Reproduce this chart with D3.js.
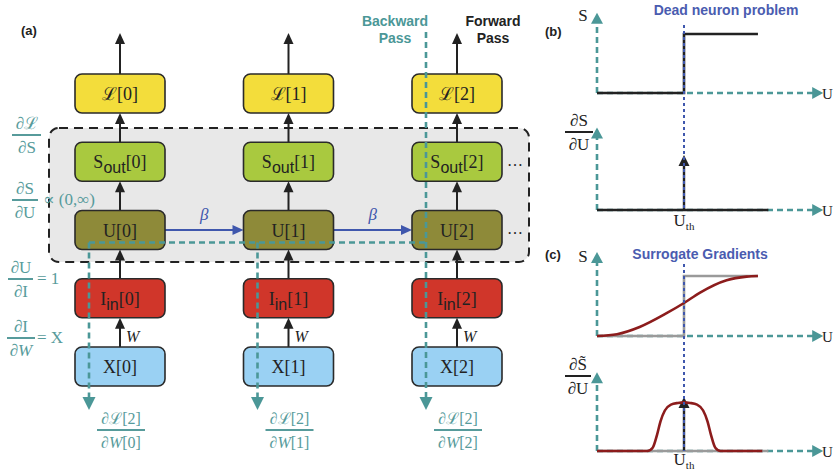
<!DOCTYPE html>
<html><head><meta charset="utf-8">
<script src="https://cdn.jsdelivr.net/npm/d3@7"></script>
<style>body{margin:0;background:#fff}svg{display:block}</style>
</head><body>
<svg id="fig" width="835" height="474"></svg>
<script>
// ---- unrolled network: time steps and layers ----
const steps = [0, 1, 2];
const layerKeys = ["L", "S", "U", "I", "X"];
const layerSymbols = ["ℒ", "S", "U", "I", "X"];
const layerSubs = ["", "out", "", "in", ""];
const layerFills = ["#f3dd3b", "#a9c93f", "#8e8a39", "#d0362a", "#9ad1f3"];

// local gradient terms along the left margin
const gradNums = ["∂ℒ", "∂S", "∂U", "∂I"];
const gradDens = ["∂S", "∂U", "∂I", "∂W"];
const gradTails = ["", "∝ (0,∞)", "= 1", "= X"];

// ---- neuron response curves (U relative to threshold) ----
const heavisideU = [-1, 0, 0, 0.85];
const heavisideS = [0, 0, 1, 1];
const spikeBaseU = [-1, 0.97];
const sigmoidU = [-1.0, -0.77, -0.51, -0.2, 0, 0.18, 0.49, 0.72, 0.85];
const sigmoidS = [0, 0.03, 0.15, 0.38, 0.55, 0.72, 0.93, 0.99, 1.0];
const bumpU = [-1.0, -0.42, -0.36, -0.31, -0.27, -0.22, -0.15, -0.07, 0, 0.07, 0.15, 0.22, 0.27, 0.31, 0.36, 0.42, 0.9];
const bumpV = [0, 0, 0.06, 0.3, 0.55, 0.75, 0.86, 0.89, 0.9, 0.89, 0.86, 0.75, 0.55, 0.3, 0.06, 0, 0];

const TEAL = "#4b9797", TEAL_TXT = "#579b9b", BLUE = "#3f57ad", INK = "#222";
const SERIF = "'Liberation Serif','DejaVu Serif',serif";
const SANS = "'Liberation Sans',Arial,sans-serif";

const svg = d3.select("#fig");

function tri(g, tx, ty, dir, len, hw, fill) {
  // dir: "up" | "down" | "right"
  let pts;
  if (dir === "up") pts = [[tx, ty], [tx - hw, ty + len], [tx + hw, ty + len]];
  else if (dir === "down") pts = [[tx, ty], [tx - hw, ty - len], [tx + hw, ty - len]];
  else pts = [[tx, ty], [tx - len, ty - hw], [tx - len, ty + hw]];
  g.append("path").attr("d", d3.line()(pts) + "Z").attr("fill", fill);
}

function frac(g, cx, barY, x0, x1, num, den, color, size) {
  const t1 = g.append("text").attr("x", cx).attr("y", barY - 6).attr("text-anchor", "middle")
    .attr("font-family", SERIF).attr("font-size", size).attr("fill", color);
  num.forEach(s => t1.append("tspan").attr("font-style", s[1] ? "italic" : null).text(s[0]));
  g.append("line").attr("x1", x0).attr("x2", x1).attr("y1", barY).attr("y2", barY)
    .attr("stroke", color).attr("stroke-width", 2);
  const t2 = g.append("text").attr("x", cx).attr("y", barY + 18).attr("text-anchor", "middle")
    .attr("font-family", SERIF).attr("font-size", size).attr("fill", color);
  den.forEach(s => t2.append("tspan").attr("font-style", s[1] ? "italic" : null).text(s[0]));
}

// ================= panel (a) =================
const gA = svg.append("g");
const xCol = d3.scaleLinear().domain([0, 2]).range([120, 457]);
const yRow = d3.scalePoint().domain(layerKeys).range([74, 347]);
const BW = 90, BH = 39;

gA.append("text").attr("x", 21).attr("y", 35).attr("font-family", SANS).attr("font-weight", "bold")
  .attr("font-size", 13).attr("fill", INK).text("(a)");

// recurrent block (S and U layers)
gA.append("rect").attr("x", 49).attr("y", 128).attr("width", 480).attr("height", 134)
  .attr("rx", 10).attr("fill", "#e8e8e8").attr("stroke", INK).attr("stroke-width", 2)
  .attr("stroke-dasharray", "9,6");

// forward arrows
steps.forEach(t => {
  const cx = xCol(t);
  gA.append("line").attr("x1", cx).attr("x2", cx).attr("y1", yRow("L")).attr("y2", 42)
    .attr("stroke", INK).attr("stroke-width", 2);
  tri(gA, cx, 33, "up", 11, 5, INK);
  for (let i = 0; i < layerKeys.length - 1; i++) {
    const yTop = yRow(layerKeys[i]) + BH, yBot = yRow(layerKeys[i + 1]);
    gA.append("line").attr("x1", cx).attr("x2", cx).attr("y1", yBot).attr("y2", yTop + 9)
      .attr("stroke", INK).attr("stroke-width", 2);
    tri(gA, cx, yTop, "up", 11, 5, INK);
  }
  gA.append("text").attr("x", cx + 6).attr("y", 342).attr("font-family", SERIF)
    .attr("font-style", "italic").attr("font-size", 16).attr("fill", INK).text("W");
});

// membrane recurrence β
steps.slice(0, -1).forEach(t => {
  const y = yRow("U") + BH / 2;
  const x0 = xCol(t) + BW / 2, x1 = xCol(t + 1) - BW / 2;
  gA.append("line").attr("x1", x0).attr("x2", x1 - 9).attr("y1", y).attr("y2", y)
    .attr("stroke", BLUE).attr("stroke-width", 2);
  tri(gA, x1, y, "right", 11, 5, BLUE);
  gA.append("text").attr("x", (x0 + x1) / 2).attr("y", y - 10).attr("text-anchor", "middle")
    .attr("font-family", SERIF).attr("font-style", "italic").attr("font-size", 17).attr("fill", BLUE).text("β");
});

// layer boxes
steps.forEach(t => {
  layerKeys.forEach((k, i) => {
    const x = xCol(t) - BW / 2, y = yRow(k);
    gA.append("rect").attr("x", x).attr("y", y).attr("width", BW).attr("height", BH).attr("rx", 7)
      .attr("fill", layerFills[i]).attr("stroke", "#2a2a2a").attr("stroke-width", 1.6);
    const tx = gA.append("text").attr("x", xCol(t)).attr("y", y + 26).attr("text-anchor", "middle")
      .attr("font-family", SERIF).attr("font-size", 18).attr("fill", INK);
    tx.append("tspan").text(layerSymbols[i]);
    if (layerSubs[i]) {
      tx.append("tspan").attr("font-family", SANS).attr("font-size", 16).attr("dy", 5).text(layerSubs[i]);
      tx.append("tspan").attr("dy", -5).text("[" + t + "]");
    } else {
      tx.append("tspan").text("[" + t + "]");
    }
  });
});

// continuation dots
["S", "U"].forEach(k => {
  gA.append("text").attr("x", xCol(2) + BW / 2 + 5).attr("y", yRow(k) + BH / 2 + 4)
    .attr("font-family", SERIF).attr("font-size", 16).attr("fill", INK).text("…");
});

// backward pass path
const bx = steps.map(t => xCol(t) - 31);
const hY = yRow("U") + BH - 7;
const dashT = { stroke: TEAL, "stroke-width": 2.6, "stroke-dasharray": "6,4", fill: "none" };
function dashed(g, pts) {
  const p = g.append("path").attr("d", d3.line()(pts));
  Object.entries(dashT).forEach(([k, v]) => p.attr(k, v));
}
dashed(gA, [[bx[2], 32], [bx[2], 398]]);
dashed(gA, [[bx[0], hY], [bx[2], hY]]);
dashed(gA, [[bx[0], hY], [bx[0], 398]]);
dashed(gA, [[bx[1], hY], [bx[1], 398]]);
bx.forEach(x => tri(gA, x, 410, "down", 13, 6.5, TEAL));

// pass labels
[["Backward", 26], ["Pass", 43]].forEach(([s, y]) =>
  gA.append("text").attr("x", 395).attr("y", y).attr("text-anchor", "middle").attr("font-family", SANS)
    .attr("font-weight", "bold").attr("font-size", 14).attr("fill", TEAL).text(s));
[["Forward", 26], ["Pass", 43]].forEach(([s, y]) =>
  gA.append("text").attr("x", 493).attr("y", y).attr("text-anchor", "middle").attr("font-family", SANS)
    .attr("font-weight", "bold").attr("font-size", 14).attr("fill", INK).text(s));

// local gradient labels
const leftLab = [
  { cx: 27, bar: 135, x0: 12, x1: 41, tx: 0, ty: 0 },
  { cx: 25, bar: 200, x0: 12, x1: 38, tx: 43, ty: 205 },
  { cx: 21, bar: 279, x0: 8, x1: 33, tx: 37, ty: 284 },
  { cx: 21, bar: 338, x0: 7, x1: 35, tx: 37, ty: 343 }
];
gradNums.forEach((n, i) => {
  const L = leftLab[i];
  const den = gradDens[i] === "∂W" ? [["∂"], ["W", true]] : [[gradDens[i]]];
  frac(gA, L.cx, L.bar, L.x0, L.x1, [[n]], den, TEAL_TXT, 17);
  if (gradTails[i]) gA.append("text").attr("x", L.tx).attr("y", L.ty).attr("font-family", SERIF)
    .attr("font-size", 17).attr("fill", TEAL_TXT).text(gradTails[i]);
});

// total weight gradients per step
steps.forEach(t => {
  const cx = xCol(t) + 1;
  frac(gA, cx, 430, cx - 24, cx + 24, [["∂ℒ[2]"]], [["∂"], ["W", true], ["[" + t + "]"]], TEAL_TXT, 16);
});

// ================= panels (b), (c) =================
const xU = d3.scaleLinear().domain([-1, 0]).range([597, 684]);
const gB = svg.append("g");

function axes(g, base, unit, topV) {
  const y = d3.scaleLinear().domain([0, 1]).range([base, base - unit]);
  dashed(g, [[xU(-1), base], [xU(1.6) - 10, base]]);
  tri(g, xU(1.6), base, "right", 11, 6, TEAL);
  dashed(g, [[xU(-1), base], [xU(-1), y(topV) + 10]]);
  tri(g, xU(-1), y(topV), "up", 11, 6, TEAL);
  g.append("text").attr("x", 822).attr("y", base + 6).attr("font-family", SERIF).attr("font-size", 15)
    .attr("fill", INK).text("U");
  return y;
}
function curve(g, us, vs, y, color, w, smooth) {
  const ln = d3.line().x(d => xU(d[0])).y(d => y(d[1]));
  if (smooth) ln.curve(d3.curveMonotoneX);
  g.append("path").attr("d", ln(us.map((u, i) => [u, vs[i]]))).attr("fill", "none")
    .attr("stroke", color).attr("stroke-width", w).attr("stroke-linejoin", "miter");
}
function impulse(g, y, topV) {
  g.append("line").attr("x1", xU(0)).attr("x2", xU(0)).attr("y1", y(0)).attr("y2", y(topV) + 9)
    .attr("stroke", INK).attr("stroke-width", 2.4);
  tri(g, xU(0), y(topV), "up", 11, 5.5, INK);
}
function thresh(g, y0, y1) {
  g.append("line").attr("x1", xU(0)).attr("x2", xU(0)).attr("y1", y0).attr("y2", y1)
    .attr("stroke", BLUE).attr("stroke-width", 2).attr("stroke-dasharray", "3,3");
}
function uth(g, y) {
  const t = g.append("text").attr("x", xU(0)).attr("y", y).attr("text-anchor", "middle")
    .attr("font-family", SERIF).attr("font-size", 17).attr("fill", INK);
  t.append("tspan").text("U");
  t.append("tspan").attr("font-size", 11).attr("dy", 4).text("th");
}
function title(g, x, y, s) {
  g.append("text").attr("x", x).attr("y", y).attr("text-anchor", "middle").attr("font-family", SANS)
    .attr("font-weight", "bold").attr("font-size", 14).attr("fill", "#4a5cb0").text(s);
}

// (b) Heaviside spike and its derivative
gB.append("text").attr("x", 545).attr("y", 36).attr("font-family", SANS).attr("font-weight", "bold")
  .attr("font-size", 13).attr("fill", INK).text("(b)");
title(gB, 726, 15, "Dead neuron problem");
const yB1 = axes(gB, 93, 59, 1.36);
gB.append("text").attr("x", 583).attr("y", 21).attr("text-anchor", "middle").attr("font-family", SERIF)
  .attr("font-size", 17).attr("fill", INK).text("S");
curve(gB, heavisideU, heavisideS, yB1, INK, 2.6, false);
const yB2 = axes(gB, 210, 55, 1.5);
frac(gB, 579, 132, 565, 593, [["∂S"]], [["∂U"]], INK, 17);
curve(gB, spikeBaseU, [0, 0], yB2, INK, 2.6, false);
impulse(gB, yB2, 1);
thresh(gB, 25, 210);
uth(gB, 226);

// (c) surrogate: smoothed spike and its gradient
gB.append("text").attr("x", 545).attr("y", 259).attr("font-family", SANS).attr("font-weight", "bold")
  .attr("font-size", 13).attr("fill", INK).text("(c)");
title(gB, 700, 259, "Surrogate Gradients");
const yC1 = axes(gB, 336, 60, 1.4);
gB.append("text").attr("x", 583).attr("y", 262).attr("text-anchor", "middle").attr("font-family", SERIF)
  .attr("font-size", 17).attr("fill", INK).text("S");
curve(gB, heavisideU, heavisideS, yC1, "#9a9a9a", 2.6, false);
curve(gB, sigmoidU, sigmoidS, yC1, "#8c1c1c", 2.6, true);
const yC2 = axes(gB, 451, 54, 1.46);
frac(gB, 578, 376, 565, 591, [["∂S\u0303"]], [["∂U"]], INK, 17);
curve(gB, spikeBaseU, [0, 0], yC2, "#9a9a9a", 2.6, false);
impulse(gB, yC2, 1);
curve(gB, bumpU, bumpV, yC2, "#8c1c1c", 2.6, true);
thresh(gB, 264, 451);
uth(gB, 465);
</script>
</body></html>
